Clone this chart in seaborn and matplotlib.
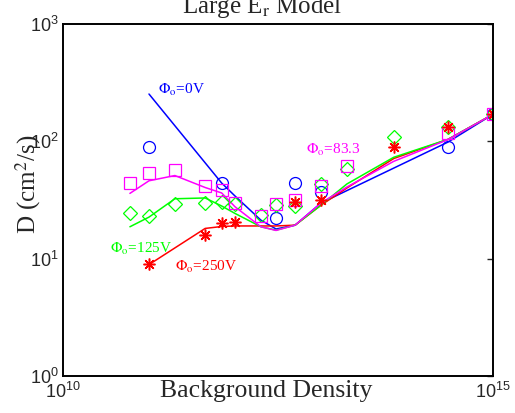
import matplotlib
matplotlib.use('Agg')
import matplotlib.pyplot as plt
import seaborn as sns
import numpy as np

# Background density grid points (x) and diffusion coefficient D (y)
blue_line_x = [1e11, 7e11, 1e12, 2e12, 3e12, 5e12, 1e13, 3e14, 1e15]
blue_line_y = [253, 44.1, 34.2, 21.3, 17.9, 19.3, 29.8, 98.6, 170]
red_line_x = [1e11, 4.5e11, 7e11, 1e12, 2e12, 3e12, 5e12, 1e13, 2e13, 7e13, 3e14, 1e15]
red_line_y = [8.9, 18.1, 18.8, 19.0, 19.0, 19.0, 19.3, 28.6, 40.0, 71.3, 104, 170]
green_line_x = [6e10, 1e11, 2e11, 4.5e11, 7e11, 1e12, 2e12, 3e12, 5e12, 1e13, 2e13, 7e13, 3e14, 1e15]
green_line_y = [18.7, 22.6, 32.4, 32.9, 28.1, 24.3, 18.7, 17.5, 19.3, 28.6, 43.3, 73.1, 104, 170]
magenta_line_x = [6e10, 1e11, 2e11, 4.5e11, 7e11, 1e12, 2e12, 3e12, 5e12, 1e13, 2e13, 7e13, 3e14, 1e15]
magenta_line_y = [36.0, 46.1, 51.1, 40.4, 36.3, 27.7, 18.7, 17.4, 19.3, 29.8, 40.8, 67.5, 103.6, 170]

blue_pts_x = [1e11, 7e11, 3e12, 5e12, 1e13, 3e14, 1e15]
blue_pts_y = [90, 44.4, 22.4, 43.9, 37.2, 90, 170]
green_pts_x = [6e10, 1e11, 2e11, 4.5e11, 7e11, 1e12, 2e12, 3e12, 5e12, 1e13, 2e13, 7e13, 3e14, 1e15]
green_pts_y = [24.3, 23.3, 29.0, 29.9, 30.6, 29.4, 23.5, 28.6, 28.1, 43.5, 57.8, 108, 133, 172]
magenta_pts_x = [6e10, 1e11, 2e11, 4.5e11, 7e11, 1e12, 2e12, 3e12, 5e12, 1e13, 2e13, 3e14, 1e15]
magenta_pts_y = [44.4, 53.3, 56.9, 41.6, 38.5, 30.1, 23.1, 29.0, 31.6, 41.6, 62, 118, 170]
red_pts_x = [1e11, 4.5e11, 7e11, 1e12, 5e12, 1e13, 7e13, 3e14, 1e15]
red_pts_y = [9.0, 15.9, 20.2, 20.4, 30.6, 31.8, 90, 131.5, 170]

sns.set_style("white")
plt.rcParams['font.family'] = ['Liberation Serif', 'DejaVu Serif']

fig = plt.figure(figsize=(5.15, 4.13), dpi=100)
ax = fig.add_axes([0.1223, 0.0896, 0.835, 0.8523])

# model curves
lw = 1.1
sns.lineplot(x=blue_line_x, y=blue_line_y, color='#0000ff', lw=lw, estimator=None, ax=ax)
sns.lineplot(x=red_line_x, y=red_line_y, color='#ff0000', lw=lw, estimator=None, ax=ax)
sns.lineplot(x=green_line_x, y=green_line_y, color='#00ff00', lw=lw, estimator=None, ax=ax)
sns.lineplot(x=magenta_line_x, y=magenta_line_y, color='#ff00ff', lw=lw, estimator=None, ax=ax)

# measured points
sns.lineplot(x=blue_pts_x, y=blue_pts_y, estimator=None, linestyle='', marker='o', ms=8.6,
             mfc='none', mec='#0000ff', mew=0.9, ax=ax)
sns.lineplot(x=green_pts_x, y=green_pts_y, estimator=None, linestyle='', marker='D', ms=7.6,
             mfc='none', mec='#00ff00', mew=0.9, ax=ax)
sns.lineplot(x=magenta_pts_x, y=magenta_pts_y, estimator=None, linestyle='', marker='s', ms=9.0,
             mfc='none', mec='#ff00ff', mew=0.9, ax=ax)
sns.lineplot(x=red_pts_x, y=red_pts_y, estimator=None, linestyle='', marker=(8, 2, 0), ms=8.5,
             mfc='none', mec='#ff0000', mew=1.1, ax=ax)

ax.set_xscale('log')
ax.set_yscale('log')
ax.set_xlim(1e10, 1e15)
ax.set_ylim(1, 1e3)
ax.set_xticks([1e10, 1e15])
ax.set_yticks([1, 10, 100, 1000])
ax.minorticks_off()
ax.tick_params(direction='in', length=4.5, width=1.0, labelsize=13, pad=3,
               labelfontfamily='Liberation Sans', top=False, right=True)
ax.tick_params(axis='x', pad=4)
for s in ax.spines.values():
    s.set_linewidth(1.4)
    s.set_color('black')

tf = dict(family=['Liberation Serif', 'DejaVu Serif'], math_fontfamily='stix')
ax.set_title(r'Large E$_\mathrm{r}$ Model', fontsize=18, pad=8, x=0.463, **tf)
ax.set_xlabel('Background Density', fontsize=18.5, **tf)
ax.set_ylabel(r'D (cm$^2$/s)', fontsize=18, **tf)
ax.xaxis.set_label_coords(0.472, -0.01)
ax.yaxis.set_label_coords(-0.046, 0.545)

ann = dict(fontsize=11, va='center', ha='left', **tf)
ax.text(1.27e11, 273, r'$\Phi_\mathrm{o}$=0V', color='#0000ff', **ann)
ax.text(6.7e12, 84, r'$\Phi_\mathrm{o}$=83.3', color='#ff00ff', **ann)
ax.text(3.5e10, 12.1, r'$\Phi_\mathrm{o}$=125V', color='#00ff00', **ann)
ax.text(2e11, 8.5, r'$\Phi_\mathrm{o}$=250V', color='#ff0000', **ann)

fig.savefig('out.png', dpi=100)
